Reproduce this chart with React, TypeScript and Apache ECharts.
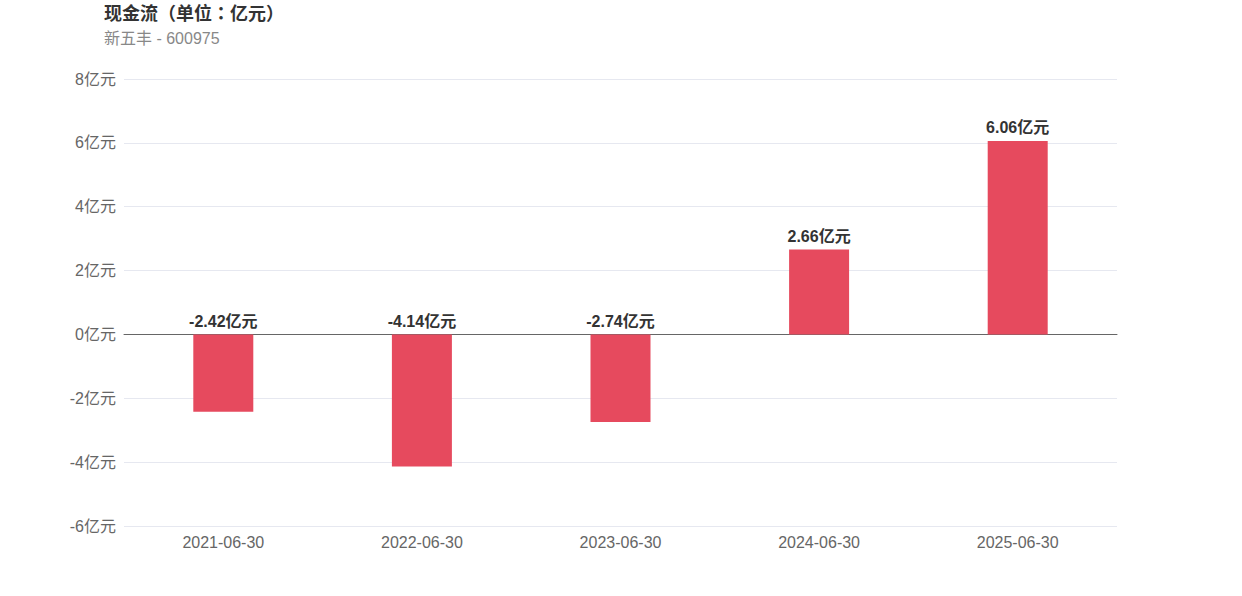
import React, { useEffect, useRef } from "react";
import * as echarts from "echarts";

const categories = ["2021-06-30", "2022-06-30", "2023-06-30", "2024-06-30", "2025-06-30"];
const values = [-2.42, -4.14, -2.74, 2.66, 6.06];
const titleText = "现金流（单位：亿元）";
const subtitleText = "新五丰 - 600975";

const FONT = "Liberation Sans, Noto Sans CJK SC, sans-serif";

export default function App() {
  const ref = useRef<HTMLDivElement>(null);
  useEffect(() => {
    if (!ref.current) return;
    const chart = echarts.init(ref.current, null, { renderer: "svg" });
    chart.setOption({
      animation: false,
      backgroundColor: "#ffffff",
      title: {
        text: titleText,
        subtext: subtitleText,
        left: 99,
        top: 0,
        itemGap: 8,
        textStyle: { fontSize: 18, fontWeight: "bold", color: "#333", fontFamily: "Liberation Sans, Noto Sans CJK TC, sans-serif" },
        subtextStyle: { fontSize: 16, color: "#888", fontFamily: FONT },
      },
      grid: { left: 124, right: 125, top: 79, bottom: 70, containLabel: false },
      xAxis: {
        type: "category",
        data: categories,
        axisTick: { show: false },
        axisLine: { show: true, onZero: true, lineStyle: { color: "#666" } },
        axisLabel: { color: "#666", fontSize: 16, margin: 8, fontFamily: FONT },
        position: "bottom",
      },
      yAxis: {
        type: "value",
        min: -6,
        max: 8,
        interval: 2,
        axisLine: { show: false },
        axisTick: { show: false },
        splitLine: { lineStyle: { color: "#e6e8f0" } },
        axisLabel: {
          color: "#666",
          fontSize: 16,
          margin: 8,
          fontFamily: FONT,
          formatter: (v: number) => `${v}亿元`,
        },
      },
      series: [
        {
          type: "bar",
          data: values,
          barWidth: 60,
          itemStyle: { color: "#e64a5e" },
          label: {
            show: true,
            position: "top",
            fontSize: 16,
            fontWeight: "bold",
            color: "#333",
            fontFamily: FONT,
            formatter: (p: any) => `${p.value}亿元`,
          },
        },
      ],
    });
    return () => chart.dispose();
  }, []);
  return <div ref={ref} style={{ position: "fixed", left: 0, top: 0, width: 1242, height: 596 }} />;
}
